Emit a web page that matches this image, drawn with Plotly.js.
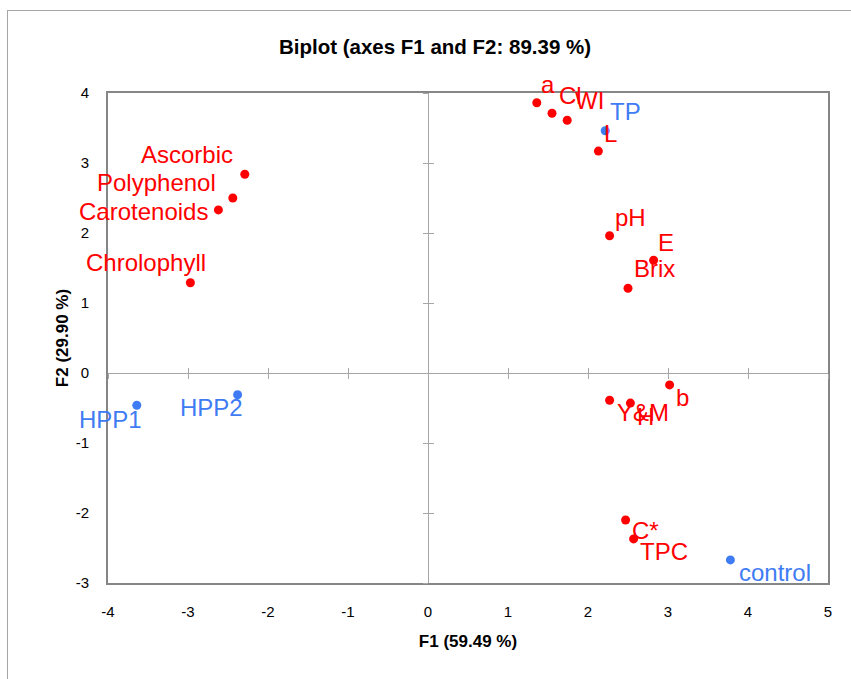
<!DOCTYPE html>
<html>
<head>
<meta charset="utf-8">
<script src="https://cdn.plot.ly/plotly-3.0.1.min.js"></script>
<style>
  html, body { margin: 0; padding: 0; background: #fff; overflow: hidden; }
  #wrap { position: relative; width: 851px; height: 679px; }
  #chart { position: absolute; left: 0; top: 0; width: 851px; height: 679px; }
  #frame { position: absolute; left: 7px; top: 10px; width: 900px; height: 700px;
           border-left: 1px solid #a6a6a6; border-top: 1px solid #a6a6a6; pointer-events: none; }
</style>
</head>
<body>
<div id="wrap"><div id="chart"></div><div id="frame"></div></div>
<script>
// Variables (red)
const varNames = ['Ascorbic', 'Polyphenol', 'Carotenoids', 'Chrolophyll', 'a', 'Cl', 'WI', 'L',
                  'pH', 'E', 'Brix', 'b', 'Y&M', 'H', 'C*', 'TPC'];
const varF1 = [-2.29, -2.44, -2.62, -2.97, 1.36, 1.55, 1.74, 2.13,
               2.27, 2.82, 2.50, 3.02, 2.27, 2.53, 2.47, 2.57];
const varF2 = [2.84, 2.50, 2.33, 1.29, 3.86, 3.71, 3.61, 3.17,
               1.96, 1.61, 1.21, -0.17, -0.39, -0.43, -2.10, -2.37];

// Observations (blue)
const obsNames = ['TP', 'HPP1', 'HPP2', 'control'];
const obsF1 = [2.215, -3.64, -2.38, 3.78];
const obsF2 = [3.46, -0.46, -0.31, -2.67];

const xTicks = [-4, -3, -2, -1, 0, 1, 2, 3, 4, 5];
const xTickLabels = ['-4', '-3', '-2', '-1', '0', '1', '2', '3', '4', '5'];
const yTicks = [-3, -2, -1, 0, 1, 2, 3, 4];
const yTickLabels = ['-3', '-2', '-1', '0', '1', '2', '3', '4'];

// label placement offsets (pixels, right / down) — styling only
const varLabelOffsets = [[-58, -20], [-76, -16], [-75, 2], [-44, -20], [11, -18], [18, -18], [22, -20], [12, -18],
                         [21, -18], [12, -18], [26, -20], [13, 13], [33, 12], [15, 13], [20, 10], [30, 13]];
const obsLabelOffsets = [[20, -19], [-26, 14], [-26, 13], [45, 13]];

const RED = '#ff0000';
const BLUE = '#3f7cf4';
const FONT = 'Liberation Sans, Arial, sans-serif';
const LABEL_SIZE = 24;

const xRange = [xTicks[0], xTicks[xTicks.length - 1]];
const yRange = [yTicks[0], yTicks[yTicks.length - 1]];
const xZeroPos = (0 - yRange[0]) / (yRange[1] - yRange[0]);
const yZeroPos = (0 - xRange[0]) / (xRange[1] - xRange[0]);

const traces = [
  { type: 'scatter', mode: 'markers', x: varF1, y: varF2, text: varNames,
    marker: { color: RED, size: 9 }, showlegend: false, hoverinfo: 'text' },
  { type: 'scatter', mode: 'markers', x: obsF1, y: obsF2, text: obsNames,
    marker: { color: BLUE, size: 9 }, showlegend: false, hoverinfo: 'text' },
  // helpers so the crossing axes through the origin are drawn
  { type: 'scatter', x: [null], y: [null], xaxis: 'x2', yaxis: 'y', showlegend: false, hoverinfo: 'skip' },
  { type: 'scatter', x: [null], y: [null], xaxis: 'x3', yaxis: 'y', showlegend: false, hoverinfo: 'skip' },
  { type: 'scatter', x: [null], y: [null], xaxis: 'x', yaxis: 'y2', showlegend: false, hoverinfo: 'skip' },
  { type: 'scatter', x: [null], y: [null], xaxis: 'x', yaxis: 'y3', showlegend: false, hoverinfo: 'skip' }
];

const annotations = [];
varNames.forEach((n, i) => annotations.push({
  x: varF1[i], y: varF2[i], xref: 'x', yref: 'y', text: n, showarrow: false,
  xanchor: 'center', yanchor: 'middle',
  xshift: varLabelOffsets[i][0], yshift: -varLabelOffsets[i][1],
  font: { family: FONT, size: LABEL_SIZE, color: RED }
}));
obsNames.forEach((n, i) => annotations.push({
  x: obsF1[i], y: obsF2[i], xref: 'x', yref: 'y', text: n, showarrow: false,
  xanchor: 'center', yanchor: 'middle',
  xshift: obsLabelOffsets[i][0], yshift: -obsLabelOffsets[i][1],
  font: { family: FONT, size: LABEL_SIZE, color: BLUE }
}));

const crossCommon = { range: xRange, tickvals: xTicks, showticklabels: false, showgrid: false,
                      zeroline: false, ticklen: 5, tickcolor: '#a6a6a6', tickwidth: 1 };
const crossCommonY = { range: yRange, tickvals: yTicks, showticklabels: false, showgrid: false,
                       zeroline: false, ticklen: 5, tickcolor: '#a6a6a6', tickwidth: 1 };

const layout = {
  width: 851, height: 679,
  margin: { l: 108, r: 23, t: 93, b: 96 },
  paper_bgcolor: '#ffffff', plot_bgcolor: '#ffffff',
  font: { family: FONT, color: '#000' },
  title: { text: '<b>Biplot (axes F1 and F2: 89.39 %)</b>', x: 435 / 851, xref: 'container', xanchor: 'center',
           y: 1 - 47 / 679, yref: 'container', yanchor: 'middle',
           font: { family: FONT, size: 20.5, color: '#000' } },
  xaxis: {
    range: xRange, tickvals: xTicks, ticktext: xTickLabels, showgrid: false, zeroline: false,
    showline: true, mirror: true, linecolor: '#868686', linewidth: 2, ticks: '',
    tickfont: { family: FONT, size: 15, color: '#000' }, ticklabelstandoff: 14,
    title: { text: '<b>F1 (59.49 %)</b>', font: { family: FONT, size: 17, color: '#000' }, standoff: 16 }
  },
  yaxis: {
    range: yRange, tickvals: yTicks, ticktext: yTickLabels, showgrid: false, zeroline: false,
    showline: true, mirror: true, linecolor: '#868686', linewidth: 2, ticks: '',
    tickfont: { family: FONT, size: 15, color: '#000' }, ticklabelstandoff: 14,
    title: { text: '<b>F2 (29.90 %)</b>', font: { family: FONT, size: 17, color: '#000' }, standoff: 3 }
  },
  xaxis2: Object.assign({}, crossCommon, { overlaying: 'x', anchor: 'free', position: xZeroPos, side: 'bottom',
           showline: true, linecolor: '#a6a6a6', linewidth: 1, ticks: 'outside' }),
  xaxis3: Object.assign({}, crossCommon, { overlaying: 'x', anchor: 'free', position: xZeroPos, side: 'bottom',
           showline: false, ticks: 'inside' }),
  yaxis2: Object.assign({}, crossCommonY, { overlaying: 'y', anchor: 'free', position: yZeroPos, side: 'left',
           showline: true, linecolor: '#a6a6a6', linewidth: 1, ticks: 'outside' }),
  yaxis3: Object.assign({}, crossCommonY, { overlaying: 'y', anchor: 'free', position: yZeroPos, side: 'left',
           showline: false, ticks: 'inside' }),
  annotations: annotations,
  showlegend: false
};

Plotly.newPlot('chart', traces, layout, { staticPlot: true, displayModeBar: false });
</script>
</body>
</html>
